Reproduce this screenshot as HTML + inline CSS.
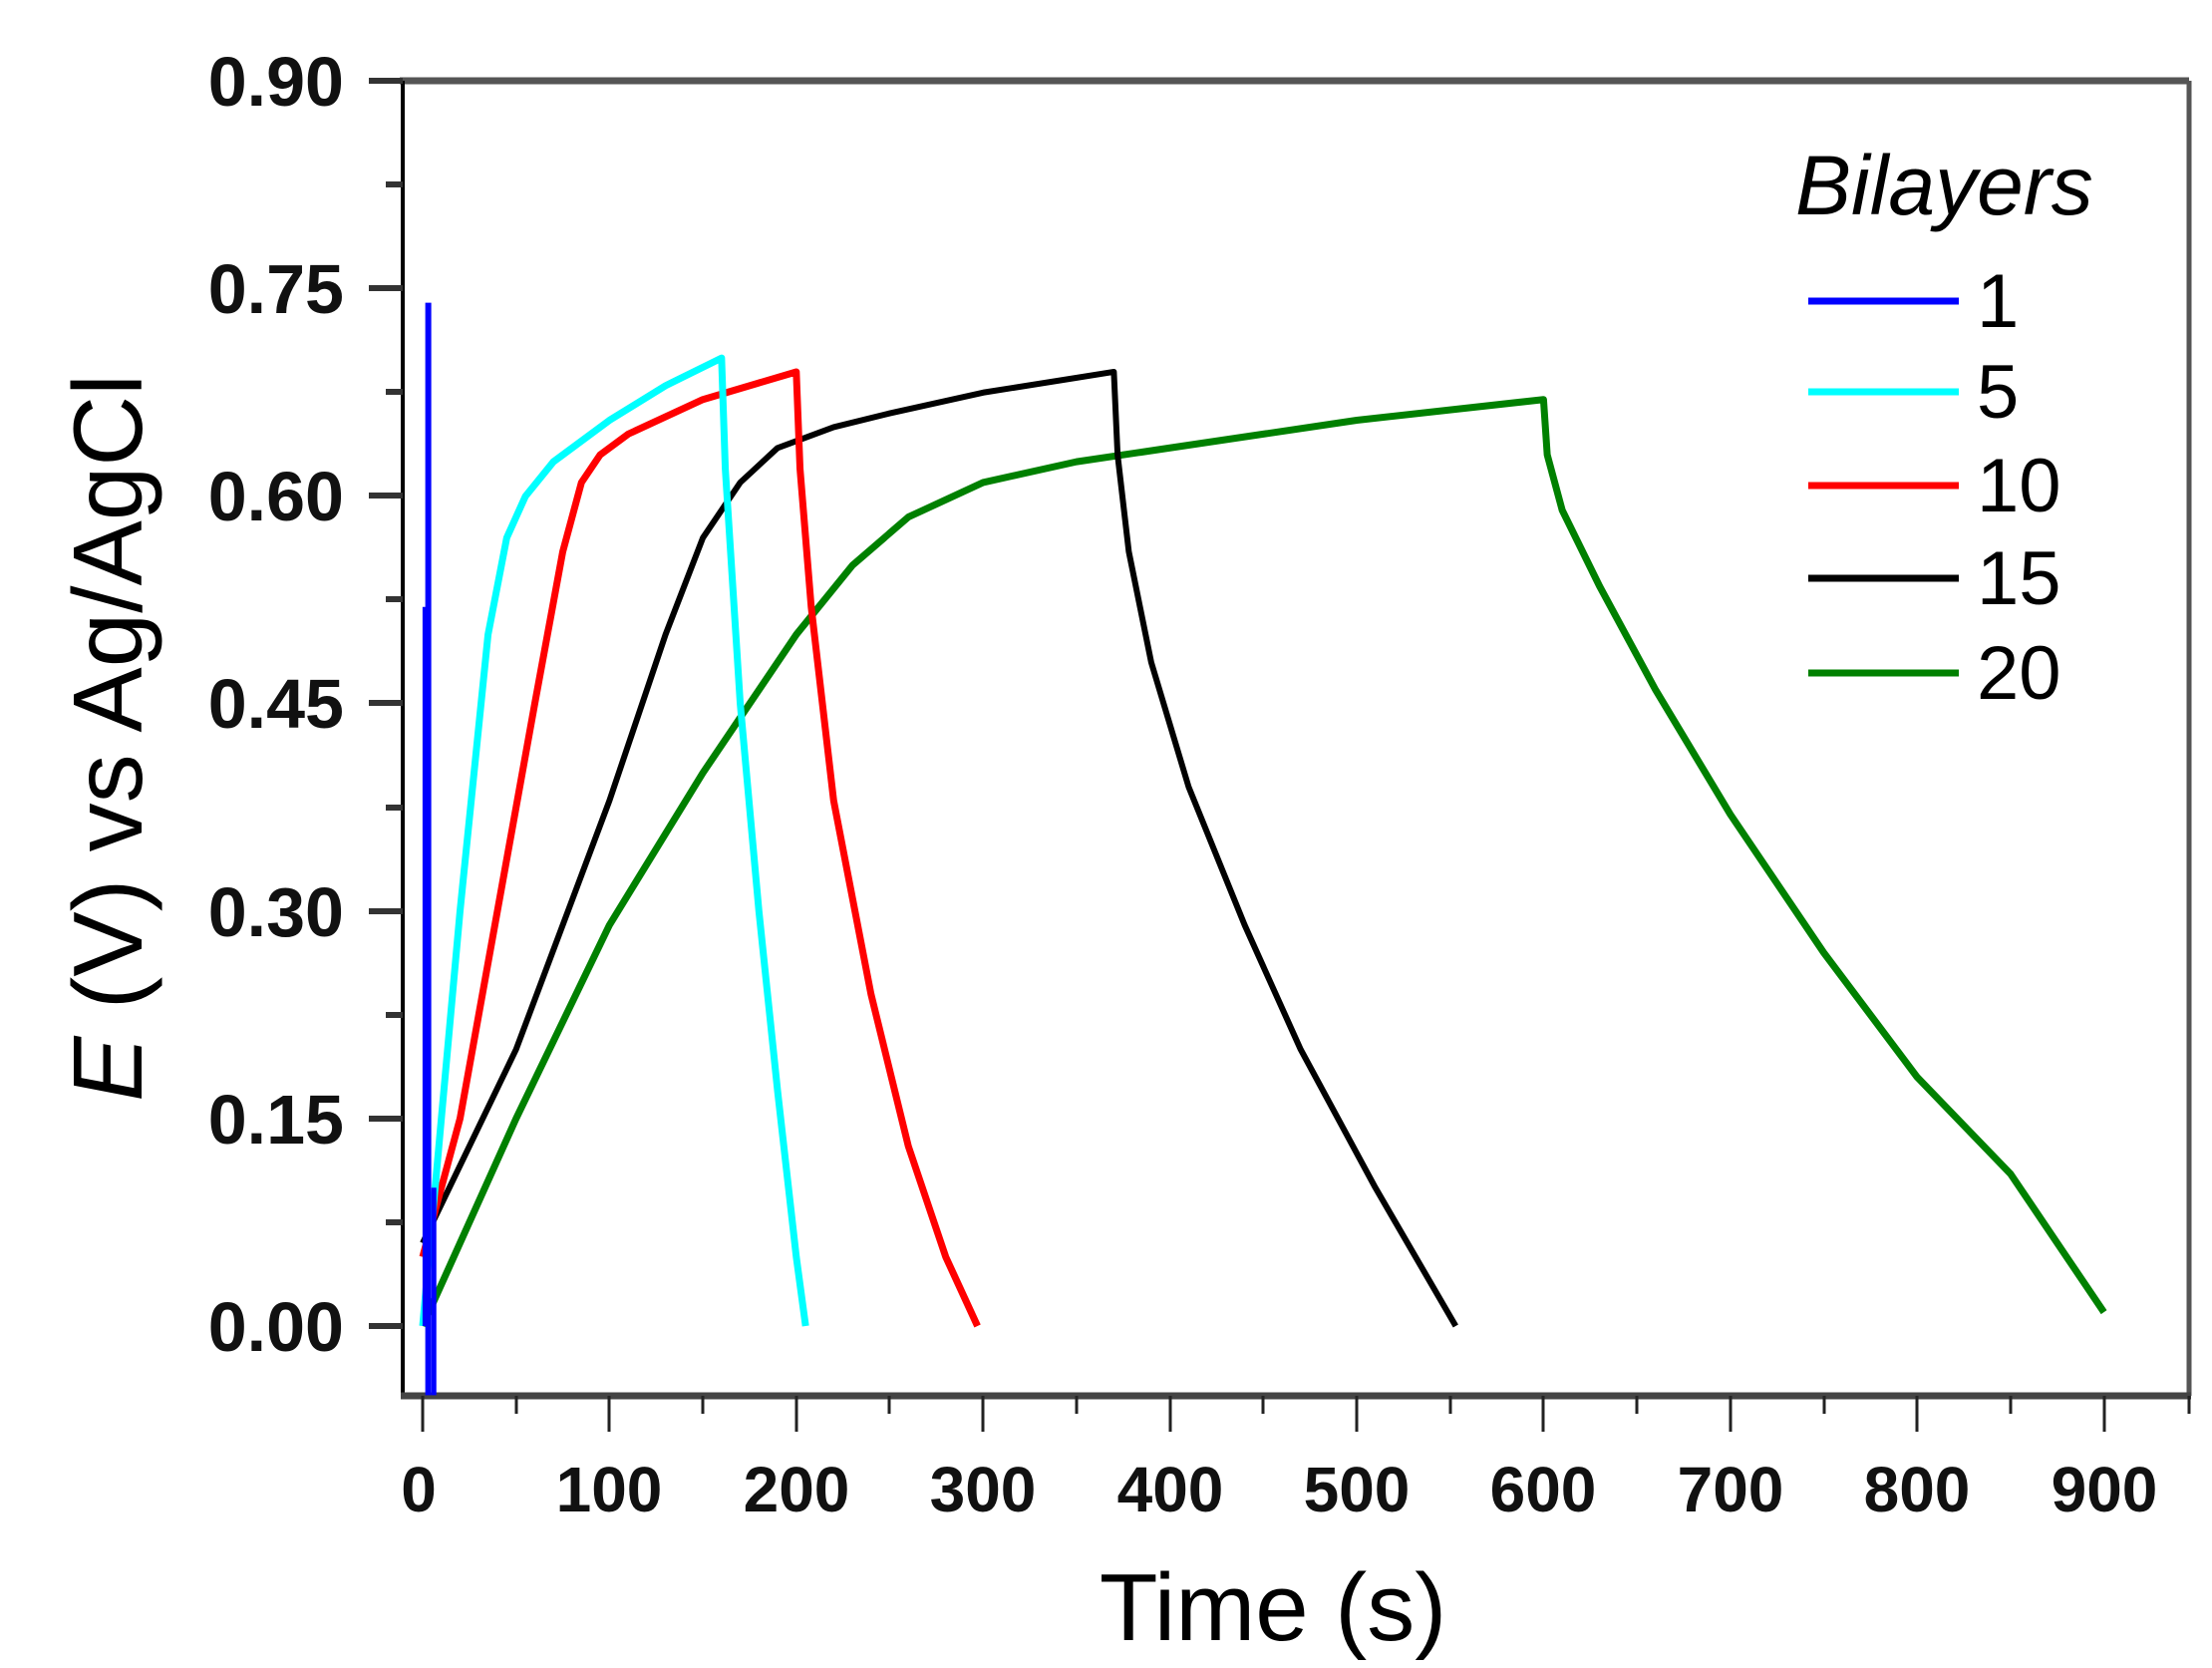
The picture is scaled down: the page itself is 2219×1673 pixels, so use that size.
<!DOCTYPE html>
<html><head><meta charset="utf-8"><style>
html,body{margin:0;padding:0;background:#fff;}
svg{display:block;}
</style></head><body>
<svg width="2219" height="1673" viewBox="0 0 2219 1673" xmlns="http://www.w3.org/2000/svg">
<rect width="2219" height="1673" fill="#fff"/>
<line x1="401" y1="81" x2="2196" y2="81" stroke="#555" stroke-width="7"/>
<line x1="2196" y1="81" x2="2196" y2="1400" stroke="#555" stroke-width="5"/>
<line x1="404" y1="81" x2="404" y2="1400" stroke="#000" stroke-width="4"/>
<line x1="402" y1="1400" x2="2198" y2="1400" stroke="#444" stroke-width="7"/>
<g stroke="#333" stroke-width="6">
<line x1="370" y1="81" x2="404" y2="81"/>
<line x1="370" y1="289" x2="404" y2="289"/>
<line x1="370" y1="497" x2="404" y2="497"/>
<line x1="370" y1="705" x2="404" y2="705"/>
<line x1="370" y1="914" x2="404" y2="914"/>
<line x1="370" y1="1122" x2="404" y2="1122"/>
<line x1="370" y1="1330" x2="404" y2="1330"/>
<line x1="387" y1="185" x2="404" y2="185"/>
<line x1="387" y1="393" x2="404" y2="393"/>
<line x1="387" y1="601" x2="404" y2="601"/>
<line x1="387" y1="810" x2="404" y2="810"/>
<line x1="387" y1="1018" x2="404" y2="1018"/>
<line x1="387" y1="1226" x2="404" y2="1226"/>
</g>
<g stroke="#222" stroke-width="3">
<line x1="424" y1="1400" x2="424" y2="1436"/><line x1="518" y1="1400" x2="518" y2="1418"/>
<line x1="611" y1="1400" x2="611" y2="1436"/><line x1="705" y1="1400" x2="705" y2="1418"/>
<line x1="799" y1="1400" x2="799" y2="1436"/><line x1="892" y1="1400" x2="892" y2="1418"/>
<line x1="986" y1="1400" x2="986" y2="1436"/><line x1="1080" y1="1400" x2="1080" y2="1418"/>
<line x1="1174" y1="1400" x2="1174" y2="1436"/><line x1="1267" y1="1400" x2="1267" y2="1418"/>
<line x1="1361" y1="1400" x2="1361" y2="1436"/><line x1="1455" y1="1400" x2="1455" y2="1418"/>
<line x1="1548" y1="1400" x2="1548" y2="1436"/><line x1="1642" y1="1400" x2="1642" y2="1418"/>
<line x1="1736" y1="1400" x2="1736" y2="1436"/><line x1="1830" y1="1400" x2="1830" y2="1418"/>
<line x1="1923" y1="1400" x2="1923" y2="1436"/><line x1="2017" y1="1400" x2="2017" y2="1418"/>
<line x1="2111" y1="1400" x2="2111" y2="1436"/><line x1="2196" y1="1400" x2="2196" y2="1418"/>
</g>
<g font-family="Liberation Sans, sans-serif" font-weight="bold" font-size="70" text-anchor="end" fill="#111">
<text x="345" y="106">0.90</text>
<text x="345" y="314">0.75</text>
<text x="345" y="522">0.60</text>
<text x="345" y="730">0.45</text>
<text x="345" y="939">0.30</text>
<text x="345" y="1147">0.15</text>
<text x="345" y="1355">0.00</text>
</g>
<g font-family="Liberation Sans, sans-serif" font-weight="bold" font-size="64" text-anchor="middle" fill="#111">
<text x="420" y="1516">0</text><text x="611" y="1516">100</text><text x="799" y="1516">200</text>
<text x="986" y="1516">300</text><text x="1174" y="1516">400</text><text x="1361" y="1516">500</text>
<text x="1548" y="1516">600</text><text x="1736" y="1516">700</text><text x="1923" y="1516">800</text>
<text x="2111" y="1516">900</text>
</g>
<text x="1277" y="1645" font-family="Liberation Sans, sans-serif" font-size="96" text-anchor="middle" fill="#000">Time (s)</text>
<text transform="translate(142,740) rotate(-90)" font-family="Liberation Sans, sans-serif" font-size="98" text-anchor="middle" fill="#000"><tspan font-style="italic">E</tspan> (V) vs Ag/AgCl</text>
<text x="1801" y="215" font-family="Liberation Sans, sans-serif" font-style="italic" font-size="84" fill="#000">Bilayers</text>
<g stroke-width="7">
<line x1="1814" y1="302" x2="1965" y2="302" stroke="#0000ff"/>
<line x1="1814" y1="393" x2="1965" y2="393" stroke="#00ffff"/>
<line x1="1814" y1="487" x2="1965" y2="487" stroke="#ff0000"/>
<line x1="1814" y1="580" x2="1965" y2="580" stroke="#000"/>
<line x1="1814" y1="675" x2="1965" y2="675" stroke="#008000"/>
</g>
<g font-family="Liberation Sans, sans-serif" font-size="76" fill="#000">
<text x="1983" y="328">1</text><text x="1983" y="419">5</text><text x="1983" y="513">10</text>
<text x="1983" y="606">15</text><text x="1983" y="701">20</text>
</g>
<g transform="translate(424,1330) scale(1.874,-1387)" fill="none" stroke-linejoin="round">
<polyline vector-effect="non-scaling-stroke" stroke="#008000" stroke-width="7" points="0,0 50,0.15 100,0.29 150,0.4 200,0.5 230,0.55 260,0.585 300,0.61 350,0.625 400,0.635 500,0.655 600,0.67 602,0.63 610,0.59 630,0.535 660,0.46 700,0.37 750,0.27 800,0.18 850,0.11 880,0.05 900,0.01"/>
<polyline vector-effect="non-scaling-stroke" stroke="#000" stroke-width="6" points="0,0.06 50,0.2 100,0.38 130,0.5 150,0.57 170,0.61 190,0.635 220,0.65 250,0.66 300,0.675 370,0.69 372,0.63 378,0.56 390,0.48 410,0.39 440,0.29 470,0.2 510,0.1 553,0"/>
<polyline vector-effect="non-scaling-stroke" stroke="#ff0000" stroke-width="7" points="0,0.05 20,0.15 40,0.3 60,0.45 75,0.56 85,0.61 95,0.63 110,0.645 150,0.67 200,0.69 202,0.62 208,0.52 220,0.38 240,0.24 260,0.13 280,0.05 297,0"/>
<polyline vector-effect="non-scaling-stroke" stroke="#00ffff" stroke-width="7" points="0,0 20,0.3 35,0.5 45,0.57 55,0.6 70,0.625 100,0.655 130,0.68 160,0.70 162,0.62 170,0.45 180,0.3 190,0.17 200,0.05 205,0"/>
<polyline vector-effect="non-scaling-stroke" stroke="#0000ff" stroke-width="6" points="3,-0.05 3,0.74"/>
<polyline vector-effect="non-scaling-stroke" stroke="#0000ff" stroke-width="4" points="1,0 1,0.52"/>
<polyline vector-effect="non-scaling-stroke" stroke="#0000ff" stroke-width="5" points="6,-0.05 6,0.1"/>
</g>
</svg>
</body></html>
